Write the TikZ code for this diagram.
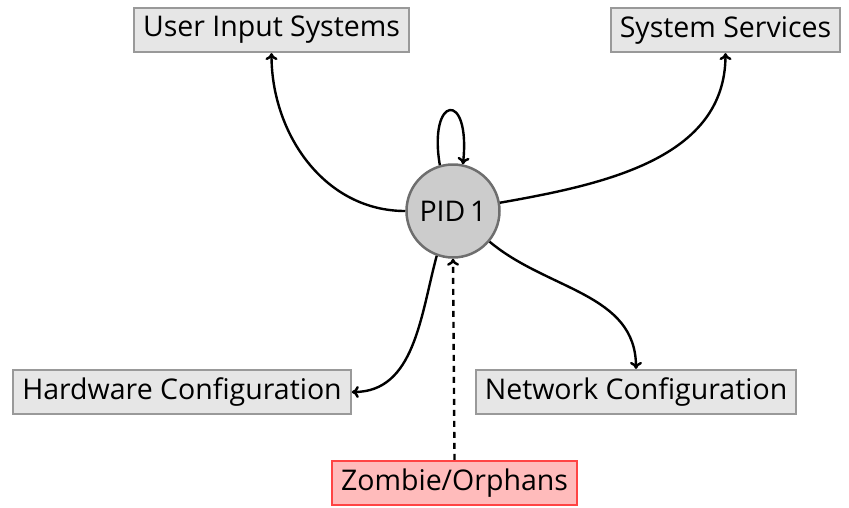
\documentclass[tikz,border=0pt]{standalone}
\usepackage{fontspec}
\setmainfont{Open Sans}
\usetikzlibrary{arrows.meta}
\definecolor{boxfill}{HTML}{E6E6E6}
\definecolor{boxline}{HTML}{999999}
\definecolor{pidfill}{HTML}{CCCCCC}
\definecolor{pidline}{HTML}{6E6E6E}
\definecolor{zfill}{HTML}{FFBBBB}
\definecolor{zline}{HTML}{FF4444}
\tikzset{
  x=1pt, y=-1pt,
  labelfont/.style={font=\fontsize{28.5}{32}\selectfont},
  box/.style={draw=boxline, fill=boxfill, line width=2.2pt, minimum height=44pt,
    inner xsep=9pt, labelfont},
  zbox/.style={box, draw=zline, fill=zfill},
  pid/.style={circle, draw=pidline, fill=pidfill, line width=2.5pt, minimum size=93pt,
    inner sep=0pt, labelfont},
  link/.style={line width=2.4pt, -{To[length=7pt,width=12pt]}},
}
\begin{document}
\begin{tikzpicture}
\useasboundingbox (0,0) rectangle (849,507);
\node[pid] (pid) at (453,211) {PID\,1};
\node[box] (user) at (271.5,30) {User Input Systems};
\node[box] (svc) at (725.5,30) {System Services};
\node[box] (hw) at (182,392) {Hardware Configuration};
\node[box] (net) at (636,392) {Network Configuration};
\node[zbox] (zomb) at (454.5,483) {Zombie/Orphans};

\draw[link] (pid.180) to[out=180,in=-90] (user.south);
\draw[link] (pid.10) to[out=10,in=-90] (svc.south);
\draw[link] (pid.106) .. controls +(-12,-70) and +(8,-75) .. (pid.78);
\draw[link] (pid.-110) to[out=-105,in=0] (hw.east);
\draw[link] (pid.-40) to[out=-40,in=90] (net.north);
\draw[link, dashed, dash pattern=on 6pt off 5pt] (zomb.north) -- (pid.south);
\end{tikzpicture}
\end{document}
